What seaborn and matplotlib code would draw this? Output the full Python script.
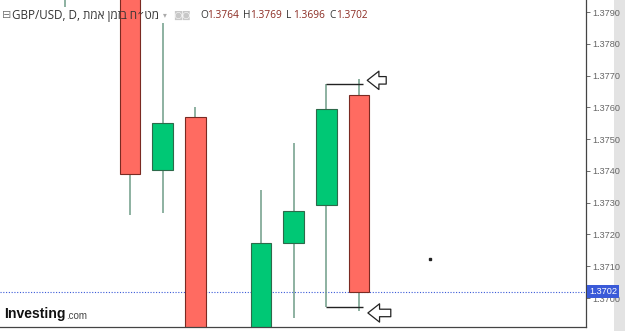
import numpy as np
import pandas as pd
import matplotlib.pyplot as plt
import seaborn as sns
from matplotlib import font_manager

# daily GBP/USD candles (positions are bar slots, some slots are off-screen)
slot = [0, 2, 3, 4, 6, 7, 8, 9]
opens = [1.3800, 1.3800, 1.37403, 1.37570, 1.3685, 1.37173, 1.37293, 1.3764]
highs = [1.3810, 1.3805, 1.37865, 1.37601, 1.37340, 1.37488, 1.37673, 1.3769]
lows = [1.37916, 1.37262, 1.37268, 1.3680, 1.3680, 1.36937, 1.36972, 1.3696]
closes = [1.3805, 1.37391, 1.37551, 1.3690, 1.37173, 1.37274, 1.37595, 1.3702]

ytick_vals = [1.3700, 1.3710, 1.3720, 1.3730, 1.3740, 1.3750, 1.3760, 1.3770, 1.3780, 1.3790]
xtick_slots = [-1, 1, 3, 5, 7, 9, 11, 13, 15]
last_price = 1.3702
ohlc_labels = ['O', 'H', 'L', 'C']
ohlc_values = [1.3764, 1.3769, 1.3696, 1.3702]

df = pd.DataFrame({'slot': slot, 'open': opens, 'high': highs, 'low': lows, 'close': closes})
df['up'] = df['close'] >= df['open']

sns.set_style('white')
plt.rcParams['font.family'] = ['Open Sans', 'DejaVu Sans']

names = {f.name for f in font_manager.fontManager.ttflist}
narrow = 'Liberation Sans Narrow' if 'Liberation Sans Narrow' in names else 'Liberation Sans'

fig = plt.figure(figsize=(6.25, 3.31), dpi=100)
ax = fig.add_axes([0, 4 / 331, 585.5 / 625, 327 / 331])

red, red_edge = '#ff6b61', '#7a2a22'
green, green_edge = '#00c875', '#2d6a4a'
wick = '#6f9c88'

# wicks
ax.vlines(df['slot'], df['low'], df['high'], color=wick, lw=1.1, zorder=1)
# bodies
for _, r in df.iterrows():
    lo = min(r['open'], r['close'])
    h = abs(r['close'] - r['open'])
    ax.bar(r['slot'], h, bottom=lo, width=0.63,
           color=green if r['up'] else red,
           edgecolor=green_edge if r['up'] else red_edge, lw=0.8, zorder=2)

# last price line
ax.axhline(last_price, color='#3a5ad8', lw=0.8, ls=(0, (1, 1.5)), zorder=0)

# drawn range lines + arrows
prev, last = df.iloc[-2], df.iloc[-1]
ax.hlines([prev['high'], prev['low']], prev['slot'], last['slot'] + 0.12, color='#222222', lw=1.0, zorder=3)
arrow_kw = dict(arrowstyle='simple,head_length=0.7,head_width=1.1,tail_width=0.45',
                fc='white', ec='#222222', lw=0.9, mutation_scale=12)
ax.annotate('', xy=(9.17, last['high'] - 0.00005), xytext=(9.92, last['high'] - 0.00005), arrowprops=arrow_kw)
ax.annotate('', xy=(9.19, last['low'] - 0.00007), xytext=(10.06, last['low'] - 0.00007), arrowprops=arrow_kw)

# stray dot
ax.plot([11.17], [1.37123], marker='s', ms=1.5, color='#222222')

ax.set_xlim(-1.976, 15.93)
ax.set_ylim(1.369088, 1.379378)
ax.yaxis.tick_right()
ax.set_yticks(ytick_vals)
ax.set_yticklabels([f'{v:.4f}' for v in ytick_vals], fontsize=6.6, color='#666666', family=narrow)
ax.set_xticks(xtick_slots)
ax.set_xticklabels([])
ax.tick_params(axis='y', direction='out', length=3, width=0.6, color='#555555', pad=2)
ax.tick_params(axis='x', direction='out', length=3, width=0.6, color='#555555')
for s in ['top', 'left']:
    ax.spines[s].set_visible(False)
for s in ['right', 'bottom']:
    ax.spines[s].set_color('#444444')
    ax.spines[s].set_linewidth(0.9)

# last price tag (covers the 1.3700 label, as in the original)
ax.text(1.006, last_price, f'{last_price:.4f}', transform=ax.get_yaxis_transform(),
        fontsize=6.6, color='white', va='center', ha='left', zorder=5, family=narrow,
        bbox=dict(boxstyle='square,pad=0.2', fc='#3a5ad8', ec='none'))

# grey strip at the far right
fig.patches.append(plt.Rectangle((614 / 625, 0), 11 / 625, 1, transform=fig.transFigure,
                                 fc='#e3e3e3', ec='none', zorder=-1))

# header line
yh = 1 - 15 / 331
hebrew = 'מט״ח בזמן אמת'[::-1]
fig.text(2 / 625, yh, '⊟', fontsize=8, color='#777777', va='center', family='DejaVu Sans')
head = fig.text(12 / 625, yh, f'GBP/USD, D, {hebrew}', fontsize=7.6, color='#333333', va='center')
r = fig.canvas.get_renderer()
w = head.get_window_extent(r).width
head.set_fontsize(7.6 * 146 / w)
fig.text(163 / 625, yh, '▾', fontsize=5.5, color='#aaaaaa', va='center', family='DejaVu Sans')
fig.text(173 / 625, yh, '◙◙', fontsize=6.5, color='#c8c8c8', va='center', family='DejaVu Sans')
x0 = 200
for lab, val in zip(ohlc_labels, ohlc_values):
    fig.text(x0 / 625, yh, lab, fontsize=7.3, color='#333333', va='center')
    fig.text((x0 + 7.5) / 625, yh, f'{val:.4f}', fontsize=7.3, color='#8b2b22', va='center')
    x0 += 43

# logo, sized to the reference width
logo = fig.text(4 / 625, 17 / 331, 'Investing', fontsize=11.5, fontweight='bold', color='#111111',
                va='center', family=narrow)
w = logo.get_window_extent(r).width
logo.set_fontsize(11.5 * 62 / w)
fig.text(66 / 625, 15 / 331, '.com', fontsize=7, color='#444444', va='center', family='Liberation Sans')

fig.savefig('out.png', dpi=100)
